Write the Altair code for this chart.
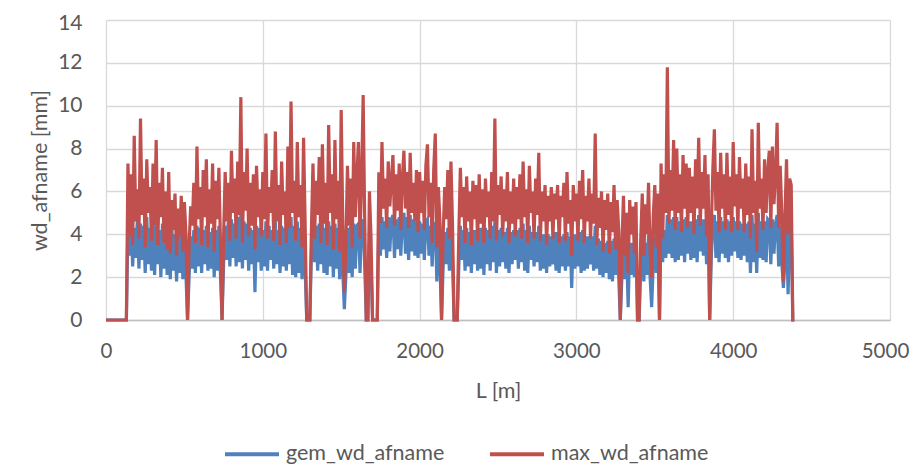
import altair as alt
import pandas as pd

# distance along track, sampled every 10 m
L = list(range(0, 4400, 10))

max_wd = [
    0, 0, 0, 0, 0, 0, 0, 0, 0, 0, 0, 0, 0, 0, 7.3, 3.9, 6.8, 3.5, 8.6, 4.6,
    6.1, 3.8, 9.4, 4.9, 6.6, 3.4, 7.5, 5.0, 6.2, 3.7, 7.3, 4.4, 8.4, 3.5, 6.4, 4.8, 7.1, 3.6, 6.0, 3.3,
    6.9, 3.1, 5.6, 4.2, 5.9, 3.0, 5.2, 3.9, 5.8, 3.2, 5.5, 4.0, 0, 3.5, 5.3, 4.4, 6.4, 3.6, 8.1, 4.7,
    6.2, 3.5, 7.0, 4.8, 7.5, 3.4, 6.1, 4.5, 7.3, 3.2, 6.5, 4.7, 7.1, 3.6, 0, 3.9, 6.9, 4.6, 6.4, 3.7,
    7.9, 5.0, 6.6, 3.8, 7.4, 4.9, 10.4, 3.6, 6.9, 5.1, 8.0, 3.9, 6.4, 4.4, 6.8, 3.3, 7.2, 4.8, 6.1, 3.9,
    6.9, 4.7, 8.7, 3.8, 6.2, 5.0, 7.0, 3.7, 8.8, 4.6, 6.3, 3.5, 7.4, 4.9, 6.0, 3.6, 8.1, 4.3, 10.2, 5.0,
    6.5, 3.7, 8.3, 4.8, 6.3, 3.4, 8.5, 4.5, 0, 0, 0, 4.2, 7.3, 3.8, 6.5, 4.9, 7.6, 3.6, 8.2, 4.5,
    6.4, 3.5, 9.1, 5.0, 6.8, 3.3, 8.4, 4.7, 6.5, 3.2, 9.8, 4.5, 1.3, 3.6, 7.2, 4.4, 6.6, 3.4, 8.3, 4.8,
    6.7, 8.3, 3.8, 6.5, 10.5, 4.6, 0, 0, 6.0, 3.9, 0, 0, 0, 0, 6.9, 4.5, 8.3, 5.2, 6.6, 4.3,
    7.4, 5.3, 6.5, 7.7, 4.4, 6.8, 5.1, 7.3, 4.2, 6.6, 7.9, 5.2, 6.9, 4.3, 7.8, 5.0, 6.4, 4.6, 7.0, 4.1,
    6.9, 5.0, 6.5, 4.2, 7.2, 8.2, 4.8, 6.4, 3.6, 7.0, 8.7, 3.4, 6.2, 4.5, 0, 3.9, 6.2, 4.7, 7.0, 3.8,
    7.4, 4.4, 0, 0, 0, 4.0, 7.1, 4.8, 6.2, 3.6, 6.7, 4.6, 6.0, 3.5, 6.5, 4.7, 6.3, 3.7, 6.8, 4.5,
    6.1, 3.6, 6.6, 4.8, 6.0, 3.8, 6.9, 4.6, 9.4, 3.7, 6.3, 4.9, 6.7, 3.9, 6.1, 4.6, 6.9, 3.6, 6.0, 4.5,
    6.6, 3.9, 6.2, 4.7, 6.8, 3.8, 7.4, 4.8, 6.1, 3.6, 7.2, 5.0, 6.0, 3.8, 6.6, 4.9, 7.8, 3.7, 6.0, 4.6,
    6.3, 3.5, 5.8, 4.6, 6.2, 3.8, 5.9, 4.7, 6.3, 3.6, 5.8, 4.8, 6.4, 3.7, 6.9, 4.5, 5.6, 3.0, 6.3, 4.6,
    5.9, 3.7, 6.5, 4.7, 7.0, 3.6, 5.8, 4.6, 6.6, 3.8, 5.9, 4.5, 8.7, 3.5, 5.7, 4.3, 6.0, 3.2, 5.6, 4.2,
    5.9, 3.1, 5.5, 4.1, 6.3, 3.3, 5.6, 4.2, 0, 3.4, 5.8, 3.0, 5.0, 2.2, 5.6, 4.0, 5.3, 3.1, 5.5, 0,
    0, 3.7, 5.9, 3.0, 5.4, 4.0, 6.4, 3.2, 2.0, 4.8, 6.3, 3.4, 5.9, 0, 7.3, 3.8, 6.8, 5.0, 11.8, 4.5,
    7.0, 5.1, 8.4, 4.2, 8.0, 5.0, 6.8, 4.1, 7.7, 5.2, 7.3, 4.3, 7.1, 5.0, 6.7, 4.0, 7.5, 5.2, 8.5, 4.4,
    6.9, 5.2, 7.7, 3.9, 6.8, 0, 4.2, 7.0, 8.9, 5.1, 6.9, 4.1, 7.8, 5.2, 6.8, 4.2, 7.8, 4.9, 6.7, 4.1,
    8.3, 5.3, 6.8, 4.2, 7.6, 5.2, 6.6, 4.1, 7.3, 4.9, 6.7, 3.8, 8.9, 5.0, 6.5, 3.2, 9.2, 5.2, 6.6, 4.2,
    7.5, 5.0, 6.9, 7.9, 4.3, 8.1, 5.4, 6.8, 9.2, 4.3, 7.2, 4.9, 1.8, 4.8, 7.5, 4.0, 6.6, 6.3, 0, 0,
]

gem_wd = [
    0, 0, 0, 0, 0, 0, 0, 0, 0, 0, 0, 0, 0, 0, 4.4, 3.0, 4.6, 2.5, 4.3, 2.9,
    4.7, 2.4, 4.5, 2.8, 4.4, 2.2, 4.8, 2.6, 4.3, 2.3, 4.6, 2.1, 4.4, 2.6, 4.2, 2.0, 4.5, 2.4, 4.1, 2.1,
    4.2, 1.9, 4.3, 2.3, 4.0, 1.8, 3.9, 2.2, 4.1, 1.9, 3.8, 2.1, 0, 2.0, 3.9, 2.4, 4.2, 2.2, 4.4, 2.5,
    4.3, 2.2, 4.2, 2.6, 4.4, 2.3, 4.1, 2.4, 4.3, 2.0, 4.2, 2.3, 4.4, 2.1, 0, 2.6, 4.4, 2.8, 4.6, 2.5,
    4.7, 2.9, 4.5, 2.5, 4.8, 2.7, 4.9, 2.4, 4.6, 2.8, 4.5, 2.3, 4.3, 2.6, 4.2, 1.3, 4.4, 2.7, 4.3, 2.3,
    4.2, 2.5, 4.6, 2.3, 4.4, 2.8, 4.2, 2.4, 4.6, 2.6, 4.2, 2.2, 4.4, 2.5, 4.3, 2.3, 4.5, 2.6, 4.8, 2.1,
    4.4, 2.0, 4.6, 2.2, 4.3, 1.9, 4.4, 2.4, 0, 0, 0, 3.2, 4.3, 2.7, 4.4, 2.3, 4.5, 2.6, 4.6, 2.2,
    4.3, 2.1, 4.6, 2.5, 4.4, 2.0, 4.5, 2.4, 4.3, 1.9, 4.7, 2.3, 0.5, 2.1, 4.3, 2.2, 4.4, 2.0, 4.5, 2.4,
    4.4, 4.5, 2.2, 4.4, 4.7, 2.5, 0, 0, 3.7, 2.7, 0, 0, 0, 0, 4.5, 3.0, 4.8, 3.3, 4.6, 2.9,
    4.8, 3.2, 4.7, 4.9, 2.9, 4.7, 3.3, 4.8, 3.0, 4.6, 5.0, 3.1, 4.8, 2.8, 4.9, 3.2, 4.7, 3.0, 4.6, 2.9,
    4.6, 3.1, 4.5, 2.8, 4.6, 4.7, 3.0, 4.4, 2.5, 4.4, 4.5, 1.8, 4.2, 2.6, 0, 2.5, 4.1, 2.6, 4.3, 2.3,
    4.4, 2.7, 0, 0, 0, 2.5, 4.4, 2.8, 4.2, 2.3, 4.3, 2.5, 4.1, 2.2, 4.2, 2.6, 4.2, 2.3, 4.3, 2.4,
    4.3, 2.1, 4.3, 2.6, 4.2, 2.3, 4.4, 2.7, 4.6, 2.2, 4.2, 2.5, 4.3, 2.7, 4.1, 2.4, 4.3, 2.2, 4.1, 2.6,
    4.2, 2.8, 4.2, 2.4, 4.3, 2.7, 4.5, 2.3, 4.2, 2.2, 4.4, 2.8, 4.1, 2.5, 4.1, 2.7, 4.4, 2.3, 4.0, 2.4,
    4.0, 2.2, 4.0, 2.5, 3.9, 2.6, 4.1, 2.3, 4.1, 2.2, 3.9, 2.5, 4.0, 2.3, 4.1, 2.5, 3.9, 1.5, 4.0, 2.4,
    4.0, 2.5, 4.1, 2.2, 4.2, 2.3, 3.9, 2.4, 3.9, 2.6, 3.9, 2.3, 4.4, 2.4, 3.8, 2.1, 3.7, 2.0, 3.6, 2.2,
    3.7, 1.9, 3.7, 1.8, 3.8, 2.1, 3.6, 2.0, 0, 2.0, 3.5, 1.9, 3.4, 0.6, 3.6, 2.1, 3.6, 2.0, 3.4, 0,
    0, 2.4, 3.7, 1.8, 3.6, 2.1, 4.0, 2.0, 0.6, 2.6, 3.9, 2.2, 3.6, 0, 4.4, 2.7, 4.2, 2.9, 4.9, 3.1,
    4.7, 2.9, 4.8, 2.7, 4.8, 2.8, 4.6, 3.0, 4.7, 2.7, 4.8, 3.1, 4.6, 2.8, 4.6, 2.9, 4.7, 2.7, 4.9, 3.2,
    4.7, 3.0, 4.7, 2.6, 4.5, 0, 2.8, 4.7, 4.9, 2.9, 4.6, 2.7, 4.8, 3.1, 4.6, 2.9, 4.7, 2.7, 4.6, 3.0,
    4.8, 3.2, 4.6, 2.9, 4.6, 2.8, 4.5, 3.0, 4.5, 2.7, 4.6, 2.2, 4.9, 2.7, 4.5, 2.2, 5.0, 2.9, 4.6, 2.8,
    4.6, 2.7, 4.7, 4.6, 2.6, 4.7, 3.1, 4.5, 4.9, 2.5, 4.4, 2.7, 1.5, 2.8, 4.6, 1.2, 4.2, 4.6, 0, 0,
]

assert len(max_wd) == len(L), ("max", len(max_wd), len(L))
assert len(gem_wd) == len(L), ("gem", len(gem_wd), len(L))

series_names = ["gem_wd_afname", "max_wd_afname"]
series_colors = ["#4F81BD", "#C0504D"]
x_ticks = [0, 1000, 2000, 3000, 4000, 5000]
y_ticks = [0, 2, 4, 6, 8, 10, 12, 14]

df = pd.DataFrame({
    "L": L + L,
    "v": gem_wd + max_wd,
    "s": [series_names[0]] * len(L) + [series_names[1]] * len(L),
})

FONT = "Lato"
TXT = "#595959"

chart = alt.Chart(df).mark_line(strokeWidth=3.2).encode(
    x=alt.X("L:Q",
            scale=alt.Scale(domain=[0, 5000], nice=False),
            axis=alt.Axis(values=x_ticks, format="d", labelFlush=False,
                          labelFontSize=20.5,
                          labelOffset={"condition": {"test": "datum.value === 5000", "value": -5},
                                       "value": 0},
                          title="L [m]", labelPadding=21,
                          titleX=392, titleY=71, titleBaseline="middle",
                          domain=True, domainColor="#BFBFBF", domainWidth=1.5)),
    y=alt.Y("v:Q",
            scale=alt.Scale(domain=[0, 14], nice=False),
            axis=alt.Axis(values=y_ticks, title="wd_afname [mm]", labelPadding=24,
                          labelFontSize=21,
                          labelOffset={"condition": {"test": "datum.value === 14", "value": 3},
                                       "value": 0},
                          titleX=-66, titleY=150, titleAngle=-90,
                          titleBaseline="middle", titleAlign="center",
                          domain=False)),
    color=alt.Color("s:N",
                    scale=alt.Scale(domain=series_names, range=series_colors),
                    legend=alt.Legend(title=None, orient="none", legendX=117, legendY=405,
                                      direction="horizontal", symbolType="stroke",
                                      symbolSize=2916, symbolStrokeWidth=4,
                                      labelFontSize=21.5, labelFont=FONT, labelColor=TXT,
                                      columnPadding=37, labelOffset=5, padding=0)),
    order=alt.Order("L:Q"),
).properties(
    width=784, height=300,
    padding={"left": 98, "top": 12, "right": 22, "bottom": 144},
    autosize="none",
).configure_axis(
    labelFont=FONT, labelFontSize=21.5, labelColor=TXT,
    titleFont=FONT, titleFontSize=21.5, titleColor=TXT, titleFontWeight="normal",
    gridColor="#D9D9D9", gridWidth=1.3, ticks=False, tickSize=0,
).configure_view(stroke=None)

chart.save("out.html", embed_options={"renderer": "svg", "actions": False})
